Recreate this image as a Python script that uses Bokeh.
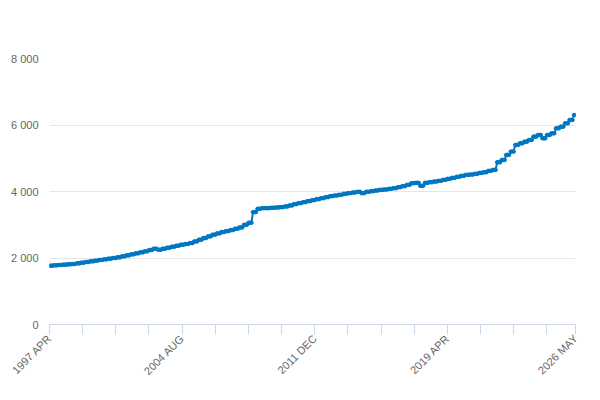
from bokeh.plotting import figure
from bokeh.models import FixedTicker, Legend, LegendItem, Label, ColumnDataSource
from bokeh.embed import file_html
from bokeh.resources import INLINE

# quarterly values (£m), each quarter spans 3 monthly observations, 1997 Q2 .. 2026 Q2
quarterly = [
    1770, 1780, 1790,
    1800, 1810, 1820, 1840,
    1860, 1880, 1900, 1920,
    1940, 1960, 1980, 2000,
    2020, 2050, 2080, 2110,
    2140, 2170, 2200, 2240,
    2280, 2250, 2280, 2310,
    2340, 2370, 2400, 2420,
    2450, 2500, 2550, 2600,
    2650, 2700, 2740, 2780,
    2810, 2840, 2880, 2920,
    3000, 3060, 3380, 3480,
    3500, 3500, 3510, 3520,
    3530, 3550, 3580, 3620,
    3650, 3680, 3710, 3740,
    3770, 3800, 3830, 3860,
    3880, 3900, 3930, 3950,
    3970, 3990, 3950, 3990,
    4010, 4030, 4050, 4060,
    4080, 4100, 4130, 4160,
    4200, 4250, 4260, 4170,
    4260, 4280, 4300, 4320,
    4350, 4380, 4410, 4440,
    4470, 4500, 4510, 4530,
    4560, 4580, 4620, 4650,
    4880, 4950, 5100, 5200,
    5400, 5450, 5500, 5550,
    5650, 5700, 5600, 5700,
    5750, 5900, 5950, 6050,
    6150, 6300,
]
months_in_last_quarter = 2
tick_labels = {0: "1997 APR", 88: "2004 AUG", 176: "2011 DEC", 264: "2019 APR", 349: "2026 MAY"}
y_ticks = [0, 2000, 4000, 6000, 8000]

values = []
for i, q in enumerate(quarterly):
    n = months_in_last_quarter if i == len(quarterly) - 1 else 3
    values += [q] * n
x = list(range(len(values)))
src = ColumnDataSource(dict(x=x, y=values))

p = figure(width=584, height=384, output_backend="svg", toolbar_location=None,
           x_range=(0, len(values) - 1), y_range=(0, 8000),
           min_border_left=49, min_border_right=9, min_border_top=58,
           min_border_bottom=0)
p.outline_line_color = None

col = "#0077c0"
r1 = p.line("x", "y", source=src, line_color=col, line_width=2)
r2 = p.scatter("x", "y", source=src, size=3.5, fill_color=col, line_color=col)

minor = list(range(0, 340, 22)) + [349]
p.xaxis.ticker = FixedTicker(ticks=minor)
p.xaxis.major_label_overrides = {t: tick_labels.get(t, "") for t in minor}
p.xaxis.major_label_orientation = 0.785
p.xaxis.major_tick_in = 0
p.xaxis.major_tick_out = 10
p.xaxis.major_tick_line_color = "#ccd6eb"
p.xaxis.axis_line_color = "#ccd6eb"
p.xaxis.minor_tick_line_color = None
p.xaxis.major_label_text_font_size = "11px"
p.xaxis.major_label_text_color = "#666666"
p.xaxis.major_label_standoff = 2
p.xgrid.grid_line_color = None

p.yaxis.ticker = FixedTicker(ticks=y_ticks)
p.yaxis.major_label_overrides = {t: f"{t:,}".replace(",", " ") for t in y_ticks}
p.yaxis.axis_line_color = None
p.yaxis.major_tick_line_color = None
p.yaxis.minor_tick_line_color = None
p.yaxis.major_label_text_font_size = "11px"
p.yaxis.major_label_text_color = "#666666"
p.ygrid.grid_line_color = "#e6e6e6"

for i, t in enumerate(["PS: Depreciation: Consumption of fixed capital (K1): £m", "CPNSA"]):
    p.add_layout(Label(x=292, y=358 - i * 22, x_units="screen", y_units="screen", text=t,
                       text_align="center", text_font="DejaVu Sans", text_font_size="16px",
                       text_color="#222222"))
p.add_layout(Label(x=3, y=320, x_units="screen", y_units="screen", text="£m",
                   text_font_size="11px", text_color="#666666"))

legend = Legend(items=[LegendItem(label="PS: Depreciation: Consumption of fixed capital (K1): £m CPNSA",
                                  renderers=[r1, r2])],
                location=(8, -80), orientation="horizontal",
                label_text_font_size="12px", label_text_font_style="bold",
                label_text_color="#333333", border_line_color=None,
                background_fill_alpha=0, padding=0, margin=0)
p.add_layout(legend, "center")
p.add_layout(Label(x=582, y=0, x_units="screen", y_units="screen", text="Source:",
                   text_align="right", text_font_size="12px", text_color="#666666"))

open("out.html", "w").write(file_html(p, INLINE))
